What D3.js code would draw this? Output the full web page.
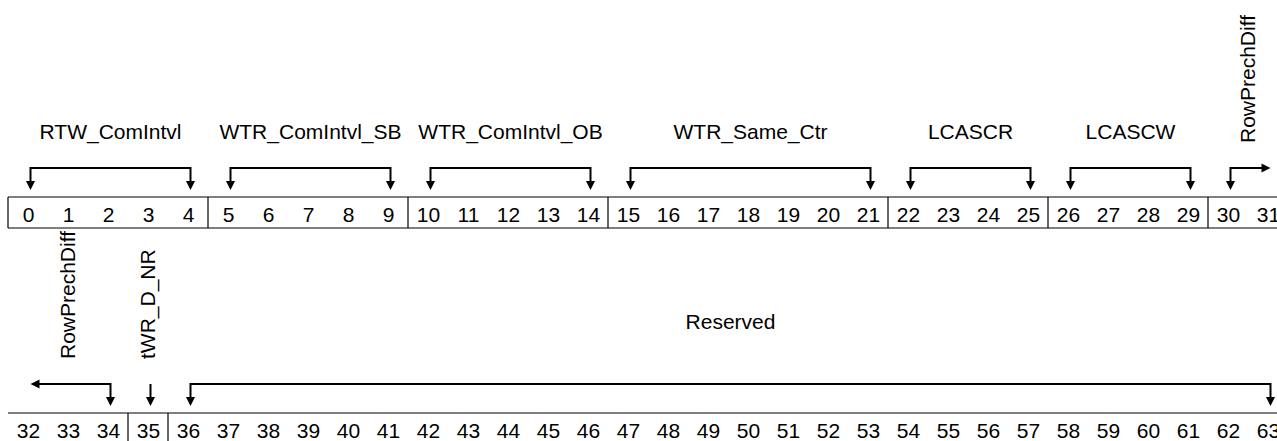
<!DOCTYPE html>
<html>
<head>
<meta charset="utf-8">
<script src="https://cdn.jsdelivr.net/npm/d3@7"></script>
<style>
  body { margin: 0; background: #fff; }
  svg { display: block; }
</style>
</head>
<body>
<div id="viz"></div>
<script>
'use strict';

// register layout: 64 bits, 32 per row
const bits = d3.range(64);
const fieldNames = [
  'RTW_ComIntvl', 'WTR_ComIntvl_SB', 'WTR_ComIntvl_OB', 'WTR_Same_Ctr',
  'LCASCR', 'LCASCW', 'RowPrechDiff', 'tWR_D_NR', 'Reserved'
];
const fieldLo = [0, 5, 10, 15, 22, 26, 30, 35, 36];
const fieldHi = [4, 9, 14, 21, 25, 29, 34, 35, 63];
const verticalNames = ['RowPrechDiff', 'tWR_D_NR'];

const width = 1277;
const height = 441;
const rowBits = 32;
const rowTops = [197, 413];
const cellH = 31;
const font = "'Liberation Sans', Arial, Helvetica, sans-serif";

const x = d3.scaleBand()
  .domain(d3.range(rowBits))
  .range([8, 8 + rowBits * 40]);

const row = b => Math.floor(b / rowBits);
const col = b => b % rowBits;
const cx = b => x(col(b)) + x.bandwidth() / 2;
const ax = b => cx(b) + 2.5;   // arrows sit a touch right of the cell centre

const svg = d3.select('#viz')
  .append('svg')
    .attr('width', width)
    .attr('height', height)
    .style('font-family', font)
    .style('font-size', '21px');

// split each field into per-row segments
const segments = [];
fieldNames.forEach((name, i) => {
  for (let r = 0; r < rowTops.length; r++) {
    const lo = Math.max(fieldLo[i], r * rowBits);
    const hi = Math.min(fieldHi[i], r * rowBits + rowBits - 1);
    if (lo > hi)
      continue;
    segments.push({
      name, lo, hi, row: r,
      openLeft: lo > fieldLo[i],
      openRight: hi < fieldHi[i]
    });
  }
});

// row outlines
const boxes = svg.append('g')
  .attr('stroke', '#000')
  .attr('stroke-width', 1.2)
  .attr('fill', 'none');

rowTops.forEach(top => {
  boxes.append('line')
    .attr('x1', x(0)).attr('x2', x.range()[1])
    .attr('y1', top).attr('y2', top);
  boxes.append('line')
    .attr('x1', x(0)).attr('x2', x.range()[1])
    .attr('y1', top + cellH).attr('y2', top + cellH);
});

// field dividers at the start of every field
boxes.selectAll('line.div')
  .data(fieldLo)
  .join('line')
    .attr('class', 'div')
    .attr('x1', b => x(col(b))).attr('x2', b => x(col(b)))
    .attr('y1', b => rowTops[row(b)])
    .attr('y2', b => rowTops[row(b)] + cellH);

// bit numbers
svg.append('g')
  .selectAll('text')
  .data(bits)
  .join('text')
    .attr('x', b => cx(b) + 0.5)
    .attr('y', b => rowTops[row(b)] + 25)
    .attr('text-anchor', 'middle')
    .attr('fill', '#000')
    .text(b => b);

// brackets and arrows
const arrows = svg.append('g');
const headDown = (px, tip) =>
  `M${px - 4.5},${tip - 9}L${px + 4.5},${tip - 9}L${px},${tip}Z`;
const headRight = (px, py) =>
  `M${px - 9},${py - 4.5}L${px - 9},${py + 4.5}L${px},${py}Z`;
const headLeft = (px, py) =>
  `M${px + 9},${py - 4.5}L${px + 9},${py + 4.5}L${px},${py}Z`;

segments.forEach(s => {
  const top = rowTops[s.row];
  const lineY = top - 29;
  const tipY = top - 7;
  const x0 = ax(s.lo);
  const x1 = ax(s.hi);
  let d;
  const heads = [];

  if (s.openRight) {
    d = `M${x0},${tipY - 8}V${lineY}H${x1 - 8}`;
    heads.push(headDown(x0, tipY), headRight(x1, lineY));
  } else if (s.openLeft) {
    d = `M${x0 + 8},${lineY}H${x1}V${tipY - 8}`;
    heads.push(headLeft(x0, lineY), headDown(x1, tipY));
  } else if (s.lo === s.hi) {
    d = `M${x0},${lineY}V${tipY - 8}`;
    heads.push(headDown(x0, tipY));
  } else {
    d = `M${x0},${tipY - 8}V${lineY}H${x1}V${tipY - 8}`;
    heads.push(headDown(x0, tipY), headDown(x1, tipY));
  }

  arrows.append('path')
    .attr('d', d)
    .attr('fill', 'none')
    .attr('stroke', '#000')
    .attr('stroke-width', 2);

  heads.forEach(h => {
    arrows.append('path')
      .attr('d', h)
      .attr('fill', '#000');
  });
});

// field labels
const labels = svg.append('g').attr('fill', '#000');

segments.filter(s => !verticalNames.includes(s.name)).forEach(s => {
  labels.append('text')
    .attr('x', (ax(s.lo) + ax(s.hi)) / 2)
    .attr('y', rowTops[s.row] - (s.row === 0 ? 58 : 84))
    .attr('text-anchor', 'middle')
    .text(s.name);
});

segments.filter(s => verticalNames.includes(s.name)).forEach(s => {
  const mx = (cx(s.lo) + cx(s.hi)) / 2;
  labels.append('text')
    .attr('transform', `translate(${mx},${rowTops[s.row] - 54}) rotate(-90)`)
    .attr('dy', '0.35em')
    .attr('text-anchor', 'start')
    .text(s.name);
});
</script>
</body>
</html>
